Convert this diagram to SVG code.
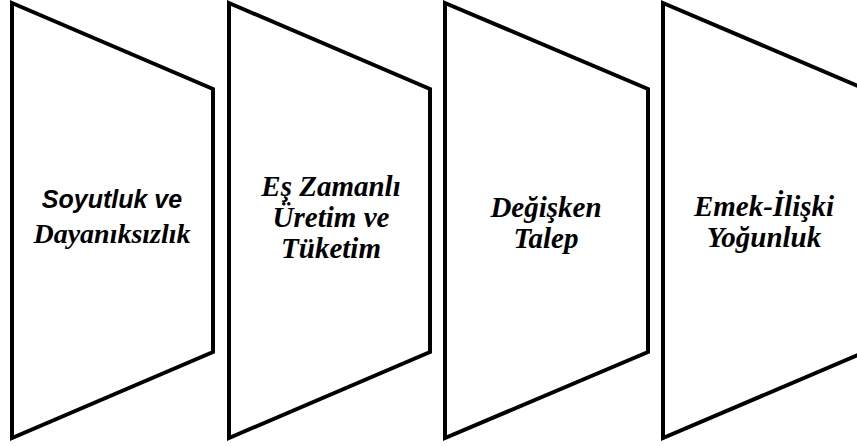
<svg xmlns="http://www.w3.org/2000/svg" width="857" height="446" viewBox="0 0 857 446">
<style>
.shape{fill:#fff;stroke:#000;stroke-width:4;stroke-linejoin:miter}
.t{font-weight:bold;font-style:italic;text-anchor:middle;fill:#000}
.serif{font-family:"Liberation Serif","DejaVu Serif",serif}
.sans{font-family:"Liberation Sans","DejaVu Sans",sans-serif}
.s25{font-size:25px}
.s28{font-size:28px}
.s29{font-size:29px}
</style>
<rect width="857" height="446" fill="#fff"/>
<g id="connectors"></g>
<g id="node1">
<polygon class="shape" points="12,3 213,89 213,352 12,438"/>
<text class="t sans s25" x="112" y="208">Soyutluk ve</text>
<text class="t serif s28" x="112" y="243">Dayanıksızlık</text>
</g>
<g id="node2">
<polygon class="shape" points="229,3 430,89 430,352 229,438"/>
<text class="t serif s29" x="331" y="196">Eş Zamanlı</text>
<text class="t serif s29" x="331" y="227">Üretim ve</text>
<text class="t serif s29" x="331" y="258">Tüketim</text>
</g>
<g id="node3">
<polygon class="shape" points="445,3 648,89 648,352 445,438"/>
<text class="t serif s29" x="546" y="217">Değişken</text>
<text class="t serif s29" x="546" y="248">Talep</text>
</g>
<g id="node4">
<polygon class="shape" points="663,3 865,89 865,352 663,438"/>
<text class="t serif s29" x="764" y="216">Emek-İlişki</text>
<text class="t serif s29" x="764" y="247">Yoğunluk</text>
</g>
</svg>
